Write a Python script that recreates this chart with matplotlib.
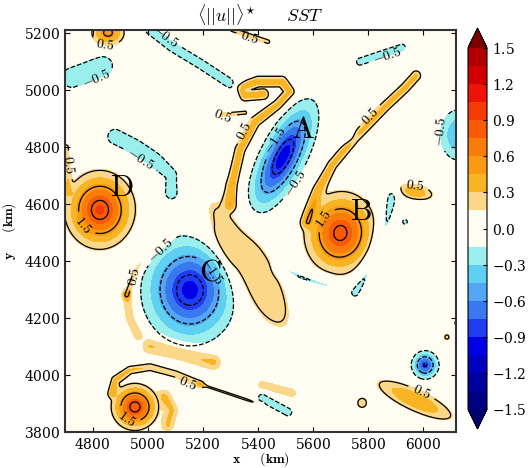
import numpy as np
import matplotlib
matplotlib.use('Agg')
from matplotlib import pyplot

pyplot.rcParams['mathtext.fontset'] = 'cm'
pyplot.rcParams['font.family'] = 'serif'
pyplot.rcParams['axes.formatter.use_mathtext'] = True

#
# data (km)
#

# eddies: centre, amplitude, major/minor e-folding width, angle of major axis
eddy_x   = [4827, 5700, 5492, 5154, 4954, 4856, 6008, 6127, 5971, 6087, 5971, 5779, 5360, 5281, 5724, 5935, 6127, 5619]
eddy_y   = [4579, 4498, 4765, 4298, 3888, 5200, 4035, 4842, 4642, 4133, 3912, 3902, 4390, 4439, 4832, 4537, 4183, 5218]
eddy_amp = [0.92, 0.88, -0.98, -0.95, 0.9, 0.55, -0.85, -0.45, 0.42, 0.22, 0.45, 0.24, 0.34, 0.16, -0.22, -0.2, -0.2, -0.22]
eddy_a   = [75, 80, 120, 105, 47, 38, 28, 62, 45, 10, 100, 18, 200, 50, 22, 14, 18, 25]
eddy_b   = [70, 72, 45, 96, 45, 30, 28, 45, 18, 10, 26, 18, 62, 12, 12, 14, 18, 10]
eddy_ang = [90, 80, 62, 90, 0, 0, 0, 90, -10, 0, -24, 0, -58, -60, 20, 0, 0, 0]

# filaments (warm)
hook_x = [5300, 5307, 5336, 5390, 5474, 5517, 5488, 5401, 5336, 5354, 5420]
hook_y = [4600, 4667, 4790, 4888, 4948, 4993, 5029, 5029, 5007, 4980, 4985]
arm_x = [5354, 5270]
arm_y = [4920, 4913]
bfil_x = [5579, 5619, 5670, 5753, 5862, 5935, 5975]
bfil_y = [4537, 4649, 4737, 4832, 4941, 5007, 5050]
arc_up_x = [5074, 5009, 4954, 4925]
arc_up_y = [4488, 4432, 4362, 4281]
bot_thick_x = [4871, 4882, 4936, 5009, 5100, 5190]
bot_thick_y = [3937, 3983, 4018, 4028, 4004, 3968]
bot_thin_x = [5190, 5299, 5416]
bot_thin_y = [3968, 3933, 3895]
top_tan_x = [5307, 5372, 5437]
top_tan_y = [5211, 5190, 5169]
left_edge_x = [4705, 4708, 4712]
left_edge_y = [4800, 4720, 4640]

# faint warm patches (shaded, below the 0.5 contour)
arc_lo_x = [4925, 4936, 4965]
arc_lo_y = [4281, 4200, 4140]
below_c_x = [5009, 5100, 5172, 5238]
below_c_y = [4102, 4081, 4063, 4046]
right_e_x = [5063, 5089, 5074]
right_e_y = [3923, 3877, 3825]
bot_streak_x = [5416, 5524]
bot_streak_y = [3965, 3937]

# filaments (cold)
cold_b_x = [5888, 5866, 5830, 5786, 5753]
cold_b_y = [4632, 4537, 4432, 4341, 4291]
cold_b2_x = [5488, 5554, 5652]
cold_b2_y = [4376, 4344, 4316]
cold_ul_x = [4725, 4784, 4838]
cold_ul_y = [5043, 5064, 5085]
cold_top_x = [5009, 5089, 5190, 5307]
cold_top_y = [5211, 5151, 5092, 5018]
cold_mid_x = [4882, 4954, 5027, 5089, 5089]
cold_mid_y = [4835, 4800, 4755, 4702, 4642]
cold_tr_x = [5771, 5844, 5924]
cold_tr_y = [5099, 5123, 5148]
cold_br_x = [5416, 5510]
cold_br_y = [3919, 3870]

filaments = [
    (hook_x, hook_y, 0.36, 15),
    (arm_x, arm_y, 0.22, 7),
    (bfil_x, bfil_y, 0.33, 14),
    (arc_up_x, arc_up_y, 0.26, 12),
    (bot_thick_x, bot_thick_y, 0.3, 11),
    (bot_thin_x, bot_thin_y, 0.2, 5),
    (top_tan_x, top_tan_y, 0.25, 7),
    (left_edge_x, left_edge_y, 0.22, 9),
    (cold_b_x, cold_b_y, -0.22, 22),
    (cold_b2_x, cold_b2_y, -0.21, 18),
    (cold_ul_x, cold_ul_y, -0.24, 40),
    (cold_top_x, cold_top_y, -0.22, 22),
    (cold_mid_x, cold_mid_y, -0.22, 36),
    (cold_tr_x, cold_tr_y, -0.21, 18),
    (cold_br_x, cold_br_y, -0.22, 18),
]
faint = [
    (arc_lo_x, arc_lo_y, 0.32, 13),
    (below_c_x, below_c_y, 0.36, 22),
    (right_e_x, right_e_y, 0.3, 17),
    (bot_streak_x, bot_streak_y, 0.28, 11),
]

# ratio of the contoured field to the shaded SST field
contour_ratio = 3.0

labels = ['A', 'B', 'C', 'D']
label_x = [5565, 5773, 5227, 4907]
label_y = [4860, 4572, 4361, 4656]

levels = np.linspace(-1.5, 1.5, 21)
line_levels = [-2.5, -1.5, -0.5, 0.5, 1.5, 2.5]
cbar_ticks = [-1.5, -1.2, -0.9, -0.6, -0.3, 0.0, 0.3, 0.6, 0.9, 1.2, 1.5]
colors = ['#000070',
          '#000085', '#00009e', '#0000c0', '#0000e6', '#1f3cf2',
          '#3a78f0', '#52a6f4', '#5fd0f2', '#9aefec', '#fffcf1',
          '#fffcf1', '#fbd789', '#f9b424', '#f99a12', '#f97b0a',
          '#f85a06', '#f43a05', '#ee1208', '#d00000', '#b00000',
          '#7a0000']

#
# functions
#

def eddy(X, Y, x0, y0, amp, a, b, ang):
    c, s = np.cos(np.radians(ang)), np.sin(np.radians(ang))
    u = (X - x0)*c + (Y - y0)*s
    v = -(X - x0)*s + (Y - y0)*c
    return amp*np.exp(-(u**2/(2*a**2) + v**2/(2*b**2)))


def filament(X, Y, xs, ys, amp, w):
    d2 = np.full(X.shape, np.inf)
    for i in range(len(xs) - 1):
        vx, vy = xs[i+1] - xs[i], ys[i+1] - ys[i]
        t = ((X - xs[i])*vx + (Y - ys[i])*vy)/(vx*vx + vy*vy)
        t = np.clip(t, 0, 1)
        dx = X - (xs[i] + t*vx)
        dy = Y - (ys[i] + t*vy)
        d2 = np.minimum(d2, dx*dx + dy*dy)
    return amp*np.exp(-d2/(2*w*w))

#
# build field
#

x = np.linspace(4700, 6120, 400)
y = np.linspace(3800, 5210, 400)
X, Y = np.meshgrid(x, y)
sst = np.zeros_like(X)
for i in range(len(eddy_x)):
    sst += eddy(X, Y, eddy_x[i], eddy_y[i], eddy_amp[i], eddy_a[i], eddy_b[i], eddy_ang[i])
for fx, fy, amp, w in filaments:
    sst += filament(X, Y, fx, fy, amp, w)
speed = contour_ratio*sst
for fx, fy, amp, w in faint:
    sst += filament(X, Y, fx, fy, amp, w)

#
# plot
#

fig = pyplot.figure(figsize=(5.29, 4.68), dpi=100)
ax = fig.add_axes([65/529, 36/468, 391/529, 402/468])

cf = ax.contourf(X, Y, sst, levels=levels, colors=colors, extend='both')
cs = ax.contour(X, Y, speed, levels=line_levels, colors='k', linewidths=0.9)
ax.clabel(cs, fmt=lambda v: r'$%.1f$' % v, fontsize=10, inline=True)

for l, lx, ly in zip(labels, label_x, label_y):
    ax.text(lx, ly, r'$\mathrm{%s}$' % l, fontsize=22, ha='center', va='center')

ax.set_xlim(4700, 6120)
ax.set_ylim(3800, 5210)
ax.set_xticks([4800, 5000, 5200, 5400, 5600, 5800, 6000])
ax.set_yticks([3800, 4000, 4200, 4400, 4600, 4800, 5000, 5200])
ax.tick_params(direction='in', top=True, right=True, labelsize=10)
for sp in ax.spines.values():
    sp.set_linewidth(1.5)
    sp.set_color('#333333')
ax.set_title(r'$\langle||u||\rangle^{\star}\qquad SST$', fontsize=13)
ax.set_xlabel(r'$\mathbf{x}\quad\ \ \mathbf{(km)}$', fontsize=10, labelpad=-1)
ax.set_ylabel(r'$\mathbf{y}\quad\ \ \mathbf{(km)}$', fontsize=10, labelpad=4)

cax = fig.add_axes([468/529, 39/468, 19/529, 401/468])
cb = fig.colorbar(cf, cax=cax, ticks=cbar_ticks, extendfrac=0.055)
cb.ax.tick_params(labelsize=10, direction='in', length=3)

fig.savefig('out.png')
